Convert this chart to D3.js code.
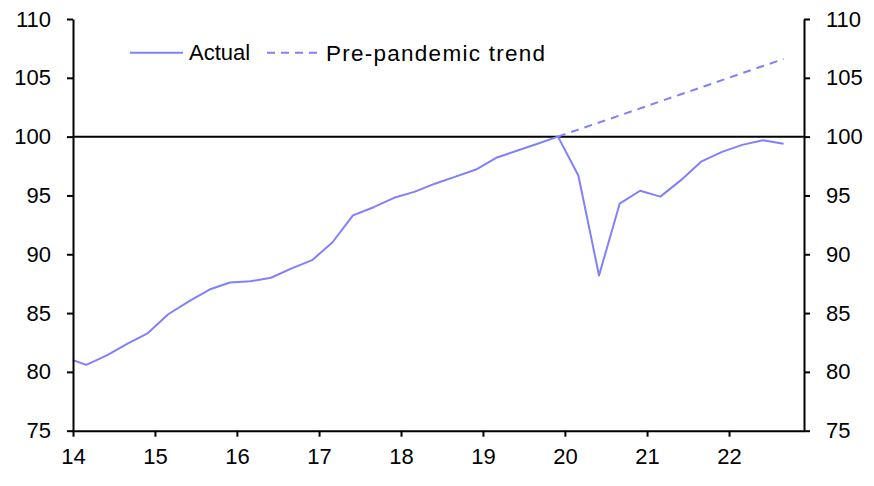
<!DOCTYPE html>
<html>
<head>
<meta charset="utf-8">
<script src="https://cdn.jsdelivr.net/npm/d3@7"></script>
<style>
  html, body { margin: 0; padding: 0; background: #fff; }
  svg text { font-family: "Liberation Sans", Arial, sans-serif; fill: #000; }
</style>
</head>
<body>
<svg id="chart" width="874" height="486"></svg>
<script>
// ---- Data ----
const actualDates = ["2014-01","2014-03","2014-06","2014-09","2014-12",
  "2015-03","2015-06","2015-09","2015-12",
  "2016-03","2016-06","2016-09","2016-12",
  "2017-03","2017-06","2017-09","2017-12",
  "2018-03","2018-06","2018-09","2018-12",
  "2019-03","2019-06","2019-09","2019-12",
  "2020-03","2020-06","2020-09","2020-12",
  "2021-03","2021-06","2021-09","2021-12",
  "2022-03","2022-06","2022-09"];
const actualValues = [81.0, 80.6, 81.4, 82.4, 83.3,
  84.9, 86.0, 87.0, 87.6,
  87.7, 88.0, 88.8, 89.5,
  91.0, 93.3, 94.0, 94.8,
  95.3, 96.0, 96.6, 97.2,
  98.2, 98.8, 99.4, 100.0,
  96.7, 88.2, 94.3, 95.4,
  94.9, 96.3, 97.9, 98.7,
  99.3, 99.7, 99.4];
const trendDates = ["2019-12","2020-03","2020-06","2020-09","2020-12",
  "2021-03","2021-06","2021-09","2021-12","2022-03","2022-06","2022-09"];
const trendValues = [100.0, 100.6, 101.2, 101.8, 102.4, 103.0, 103.6, 104.2, 104.8, 105.4, 106.0, 106.6];
const yTicks = [75, 80, 85, 90, 95, 100, 105, 110];
const xTickYears = [2014, 2015, 2016, 2017, 2018, 2019, 2020, 2021, 2022];
const seriesNames = ["Actual", "Pre-pandemic trend"];
const xDomain = ["2014-01", "2022-12"];
const yDomain = [75, 110];

// ---- Layout ----
const svg = d3.select("#chart");
const L = 73, R = 804, T = 19, B = 430.7;
const color = "#8080ff";
const parse = d3.timeParse("%Y-%m");

const x = d3.scaleTime().domain(xDomain.map(parse)).range([L, R]);
const y = d3.scaleLinear().domain(yDomain).range([B, T]);

const actual = actualDates.map((d, i) => ({date: parse(d), value: actualValues[i]}));
const trend = trendDates.map((d, i) => ({date: parse(d), value: trendValues[i]}));

const line = d3.line().x(d => x(d.date)).y(d => y(d.value));

// reference line at 100
svg.append("line")
  .attr("x1", L).attr("x2", R)
  .attr("y1", y(100)).attr("y2", y(100))
  .attr("stroke", "#000").attr("stroke-width", 2);

// series
svg.append("path").datum(trend)
  .attr("d", line).attr("fill", "none")
  .attr("stroke", color).attr("stroke-width", 2)
  .attr("stroke-dasharray", "8,6");
svg.append("path").datum(actual)
  .attr("d", line).attr("fill", "none")
  .attr("stroke", color).attr("stroke-width", 2)
  .attr("stroke-linejoin", "round");

// axes
const fs = "22px";
const leftAxis = d3.axisLeft(y).tickValues(yTicks).tickSize(6).tickPadding(16).tickSizeOuter(0);
const rightAxis = d3.axisRight(y).tickValues(yTicks).tickSize(6).tickPadding(16).tickSizeOuter(0);
const bottomAxis = d3.axisBottom(x)
  .tickValues(xTickYears.map(yr => new Date(yr, 0, 1)))
  .tickFormat(d3.timeFormat("%y")).tickSize(6).tickPadding(12).tickSizeOuter(0);

function style(g) {
  g.select(".domain").attr("stroke", "#000").attr("stroke-width", 2);
  g.selectAll(".tick line").attr("stroke", "#000").attr("stroke-width", 2);
  g.selectAll(".tick text").attr("font-size", fs).attr("fill", "#000")
    .attr("font-family", "'Liberation Sans', Arial, sans-serif");
  g.attr("font-size", null).attr("font-family", null);
}
svg.append("g").attr("transform", `translate(${L},0)`).call(leftAxis).call(style);
svg.append("g").attr("transform", `translate(${R},0)`).call(rightAxis).call(style);
svg.append("g").attr("transform", `translate(0,${B})`).call(bottomAxis).call(style);

// legend
const legY = 52.7;
const leg = svg.append("g");
leg.append("line").attr("x1", 130).attr("x2", 183).attr("y1", legY).attr("y2", legY)
  .attr("stroke", color).attr("stroke-width", 2);
leg.append("text").attr("x", 189).attr("y", legY).attr("dy", "0.35em")
  .attr("font-size", fs).text(seriesNames[0]);
leg.append("line").attr("x1", 267).attr("x2", 318).attr("y1", legY).attr("y2", legY)
  .attr("stroke", color).attr("stroke-width", 2).attr("stroke-dasharray", "8,6");
leg.append("text").attr("x", 326).attr("y", legY).attr("dy", "0.35em")
  .attr("font-size", "22.5px").attr("textLength", 219).attr("lengthAdjust", "spacing")
  .text(seriesNames[1]);
</script>
</body>
</html>
